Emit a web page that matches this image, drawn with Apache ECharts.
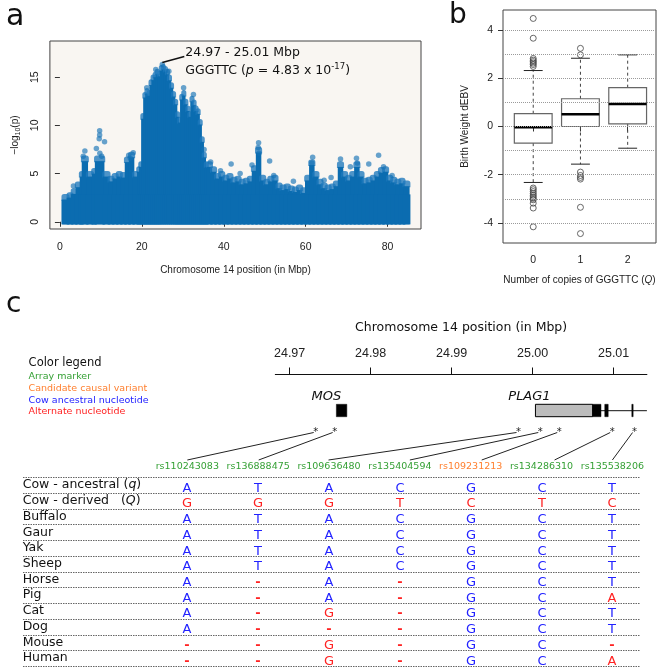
<!DOCTYPE html>
<html><head><meta charset="utf-8">
<script src="https://cdn.jsdelivr.net/npm/echarts@6/dist/echarts.min.js"></script>
<style>html,body{margin:0;padding:0;background:#fff}#c{width:660px;height:669px}</style>
</head><body><div id="c"></div>
<script>
// ================= DATA =================
// Panel a: Manhattan plot, chromosome 14 (Mbp, -log10 p)
// dense band of markers: [startMbp, endMbp, top -log10(p)]
const denseBins = [
 [0.75,2,2.6],[2,3,2.8],[3,4,3.2],[4,5,3.9],[5,5.5,5.0],[5.5,6.7,6.6],[6.7,8,5.0],[8,8.7,5.3],
 [8.7,10.7,6.6],[10.7,12,5.0],[12,13,4.5],[13,14,4.8],[14,15,5.0],[15,16,4.9],[16,17,6.5],
 [17,18,7.0],[18,19,5.0],
 [19,19.5,5.5],[19.5,20,6.0],[20,20.5,11.0],[20.5,21,13.2],[21,21.5,13.6],[21.5,22,13.4],
 [22,22.5,14.5],[22.5,23,15.0],[23,23.5,15.3],[23.5,24,15.6],[24,24.5,15.4],[24.5,25,16.0],
 [25,25.5,16.1],[25.5,26,15.9],[26,26.5,15.6],[26.5,27,15.0],[27,27.5,14.2],[27.5,28,13.3],
 [28,28.5,12.5],[28.5,29,11.2],[29,29.5,10.6],[29.5,30,13.0],[30,30.5,13.4],[30.5,31,12.5],
 [31,31.5,11.8],[31.5,32,11.2],[32,32.5,12.8],[32.5,33,12.4],[33,33.5,11.8],[33.5,34,11.5],
 [34,34.5,10.4],[34.5,35,8.6],[35,35.5,7.0],[35.5,36,6.0],
 [36,37,6.0],[37,38,5.5],[38,39,4.8],[39,40,5.0],[40,41,4.6],[41,42,4.8],[42,43,4.4],
 [43,44,4.5],[44,45,4.2],[45,46,4.3],[46,47,4.5],[47,48,5.6],[48,49,7.5],[49,50,4.6],
 [50,51,4.2],[51,52,4.5],[52,53,4.6],[53,54,3.8],[54,55,3.6],[55,56,3.7],[56,57,3.5],
 [57,58,3.4],[58,59,3.6],[59,60,3.3],[60,61,4.6],[61,62,6.2],[62,63,5.0],[63,64,4.2],
 [64,65,3.8],[65,66,3.6],[66,67,3.7],[67,68,4.0],[68,69,6.0],[69,70,5.0],[70,71,4.6],
 [71,72,5.0],[72,73,6.0],[73,74,5.0],[74,75,4.3],[75,76,4.4],[76,77,4.6],[77,78,5.0],
 [78,79,5.4],[79,80,5.5],[80,81,4.6],[81,82,4.4],[82,83,4.2],[83,84,4.3],[84,85.2,4.0]
];
// isolated markers above the dense band: [Mbp, -log10(p)]
const sparsePoints = [
 [6.1,7.35],[5.7,6.8],[9.7,9.45],[9.7,9.0],[9.6,8.6],[10.9,8.3],[8.9,7.6],[9.75,7.1],[10.2,6.8],
 [16.8,6.9],[17.9,7.15],[17.2,6.6],[3.3,3.7],[21.2,13.9],[23.4,15.8],[25.0,16.32],[26.6,15.6],
 [30.2,13.9],[32.6,13.2],[35.2,7.5],[36.8,6.2],[39.2,5.3],[41.8,6.0],[44.0,5.0],[46.9,5.9],
 [48.5,8.2],[48.4,7.7],[48.6,7.1],[51.2,6.3],[52.2,4.8],[57.0,4.2],[61.7,6.7],[61.5,6.1],
 [64.5,4.3],[66.2,4.6],[68.5,6.5],[70.9,5.7],[72.4,6.6],[72.6,6.1],[75.4,6.0],[77.8,6.9],
 [79.0,5.7],[81.1,4.8]
];
const peakPoint = [25.0, 16.32];
const peakRegion = '24.97 - 25.01 Mbp';
const peakHaplotype = 'GGGTTC';
const peakP = '4.83';
const peakExp = '-17';
const aXTicks = [0,20,40,60,80];
const aYTicks = [0,5,10,15];

// Panel b: boxplots of Birth Weight dEBV by number of GGGTTC copies
const copyLabels = ['0','1','2'];
// [lower whisker, Q1, median, Q3, upper whisker]
const boxStats = [
 [-2.32,-0.69,-0.03,0.53,2.32],
 [-1.56,0.00,0.51,1.15,2.83],
 [-0.90,0.11,0.93,1.61,2.97]
];
// [group index, value]
const outliers = [
 [0,4.48],[0,3.66],[0,2.82],[0,2.75],[0,2.69],[0,2.63],[0,2.57],[0,2.49],
 [0,-2.55],[0,-2.62],[0,-2.70],[0,-2.78],[0,-2.85],[0,-2.92],[0,-2.98],[0,-3.04],[0,-3.18],[0,-3.38],[0,-4.16],
 [1,3.24],[1,2.97],[1,-1.89],[1,-2.03],[1,-2.11],[1,-2.18],[1,-3.35],[1,-4.44]
];
const bYTicks = [-4,-2,0,2,4];
const bGridValues = [-4,-3,-2,-1,0,1,2,3,4];

// Panel c: region map and alignment
const cTicks = [24.97,24.98,24.99,25.00,25.01];
const geneParts = [
 {gene:'MOS',   kind:'exon',   start:24.97577, end:24.97706},
 {gene:'PLAG1', kind:'intron', start:25.00035, end:25.01411},
 {gene:'PLAG1', kind:'utr',    start:25.00035, end:25.00741},
 {gene:'PLAG1', kind:'exon',   start:25.00741, end:25.00844},
 {gene:'PLAG1', kind:'exon',   start:25.00891, end:25.00933},
 {gene:'PLAG1', kind:'exon',   start:25.01225, end:25.01237}
];
const geneNames = [{name:'MOS', start:24.97577},{name:'PLAG1', start:25.00035}];
const snpIds  = ['rs110243083','rs136888475','rs109636480','rs135404594','rs109231213','rs134286310','rs135538206'];
const snpPos  = [24.97322,24.97556,24.99826,25.00095,25.00329,25.00983,25.01259];
const snpType = ['array','array','array','array','candidate','array','array'];
const species = ['Cow - ancestral (q)','Cow - derived   (Q)','Buffalo','Gaur','Yak','Sheep','Horse','Pig','Cat','Dog','Mouse','Human'];
const alleles = [
 ['A','T','A','C','G','C','T'],
 ['G','G','G','T','C','T','C'],
 ['A','T','A','C','G','C','T'],
 ['A','T','A','C','G','C','T'],
 ['A','T','A','C','G','C','T'],
 ['A','T','A','C','G','C','T'],
 ['A','-','A','-','G','C','T'],
 ['A','-','A','-','G','C','A'],
 ['A','-','G','-','G','C','T'],
 ['A','-','-','-','G','C','T'],
 ['-','-','G','-','G','C','-'],
 ['-','-','G','-','G','C','A']
];
const legendItems = [
 {text:'Array marker', key:'array'},
 {text:'Candidate causal variant', key:'candidate'},
 {text:'Cow ancestral nucleotide', key:'ancestral'},
 {text:'Alternate nucleotide', key:'alternate'}
];

// ================= STYLE / LAYOUT =================
const FR = "'Liberation Sans', Arial, sans-serif";
const FD = "'DejaVu Sans', sans-serif";
const COL = {array:'#35a035', candidate:'#ff8030', ancestral:'#2222ff', alternate:'#ff2222'};
const MAN_BLUE = '#0b6cb0';
const MAN_FRINGE = 'rgba(30,120,188,0.78)';
const T = {left:151.9, top:477.3, width:495.9, height:188.7};
const geneLabelDx = {MOS:-10, PLAG1:-6};
const connectorDx = [0, 0.5, -0.5, 10, 11, 13, 0];

const cells = [];
alleles.forEach((row, r) => row.forEach((ch, c) => {
  const anc = alleles[0][c];
  cells.push({col:c, row:r, ch, color:(ch !== '-' && ch === anc) ? COL.ancestral : COL.alternate});
}));

const chart = echarts.init(document.getElementById('c'));
const axisTxt = {fontSize:10.5, fontFamily:FR, color:'#222'};
const nameTxt = {fontSize:10, fontFamily:FR, color:'#222'};

const option = {
  animation:false,
  grid:[
    {left:49, top:41, width:372, height:188, show:true, backgroundColor:'#f9f6f2', borderColor:'#444', borderWidth:1},
    {left:503, top:10, width:153, height:233, show:true, backgroundColor:'rgba(0,0,0,0)', borderColor:'#444', borderWidth:1},
    {left:275.3, top:374.5, width:371.6, height:60, show:false},
    {left:T.left, top:T.top, width:T.width, height:T.height, show:false}
  ],
  xAxis:[
    {gridIndex:0, type:'value', min:-2.44, max:88.15, axisLine:{show:false},
     axisTick:{show:true, length:5, customValues:aXTicks, lineStyle:{color:'#333'}},
     axisLabel:Object.assign({customValues:aXTicks, margin:13}, axisTxt), splitLine:{show:false},
     name:'Chromosome 14 position (in Mbp)', nameLocation:'middle', nameGap:36, nameTextStyle:nameTxt},
    {gridIndex:1, type:'value', min:0.36, max:3.6, axisLine:{show:false},
     axisTick:{show:true, length:5, customValues:[1,2,3], lineStyle:{color:'#333'}},
     axisLabel:Object.assign({customValues:[1,2,3], margin:12, formatter:v=>copyLabels[Math.round(v)-1]}, axisTxt),
     splitLine:{show:false},
     name:'Number of copies of GGGTTC ({i|Q})', nameLocation:'middle', nameGap:32,
     nameTextStyle:Object.assign({rich:{i:{fontStyle:'italic', fontSize:10, fontFamily:FR, color:'#222'}}}, nameTxt)},
    {gridIndex:2, type:'value', position:'top', min:24.96823, max:25.01411,
     axisLine:{show:true, lineStyle:{color:'#111', width:1}},
     axisTick:{show:true, length:7, customValues:cTicks, lineStyle:{color:'#111'}},
     axisLabel:{customValues:cTicks, formatter:v=>v.toFixed(2), fontSize:12.5, fontFamily:FR, color:'#222', margin:14},
     splitLine:{show:false},
     name:'Chromosome 14 position (in Mbp)', nameLocation:'middle', nameGap:40,
     nameTextStyle:{fontSize:12.5, fontFamily:FD, color:'#111'}},
    {gridIndex:3, type:'category', position:'top', data:snpIds, axisLine:{show:false}, axisTick:{show:false},
     axisLabel:{interval:0, fontSize:9.5, fontFamily:FD, margin:6, color:(v,i)=>COL[snpType[snpIds.indexOf(v)]]},
     splitLine:{show:false}}
  ],
  yAxis:[
    {gridIndex:0, type:'value', min:-0.75, max:18.75, axisLine:{show:false},
     axisTick:{show:true, length:5, customValues:aYTicks, lineStyle:{color:'#333'}},
     axisLabel:Object.assign({customValues:aYTicks, rotate:90, margin:9}, axisTxt), splitLine:{show:false},
     name:'\u2212log{s|10}(p)', nameLocation:'middle', nameGap:24,
     nameTextStyle:Object.assign({lineHeight:14, rich:{s:{fontSize:7, fontFamily:FR, color:'#222', verticalAlign:'bottom', lineHeight:14}}}, nameTxt)},
    {gridIndex:1, type:'value', min:-4.83, max:4.83, axisLine:{show:false},
     axisTick:{show:true, length:5, customValues:bYTicks, lineStyle:{color:'#333'}},
     axisLabel:Object.assign({customValues:bYTicks, margin:10}, axisTxt), splitLine:{show:false},
     name:'Birth Weight dEBV', nameLocation:'middle', nameGap:33, nameTextStyle:nameTxt},
    {gridIndex:2, type:'value', min:0, max:1, inverse:true, show:false},
    {gridIndex:3, type:'category', data:species, inverse:true, axisLine:{show:false}, axisTick:{show:false},
     axisLabel:{interval:0, align:'left', margin:T.left-22.7, fontSize:12.5, fontFamily:FD, color:'#111',
       formatter:v=>v.replace('(q)','({i|q})').replace('(Q)','({i|Q})'),
       rich:{i:{fontStyle:'italic', fontSize:12.5, fontFamily:FD, color:'#111'}}},
     splitLine:{show:false}}
  ],
  graphic:[
    {type:'text', x:6, y:17, style:{text:'a', fontSize:30, fontFamily:FD, fill:'#111', verticalAlign:'middle', textVerticalAlign:'middle'}},
    {type:'text', x:449, y:16, style:{text:'b', fontSize:28, fontFamily:FD, fill:'#111', verticalAlign:'middle', textVerticalAlign:'middle'}},
    {type:'text', x:6, y:305, style:{text:'c', fontSize:28, fontFamily:FD, fill:'#111', verticalAlign:'middle', textVerticalAlign:'middle'}},
    {type:'text', x:28.6, y:362.7, style:{text:'Color legend', fontSize:11.5, fontFamily:FD, fill:'#111', verticalAlign:'middle', textVerticalAlign:'middle'}}
  ].concat(legendItems.map((it,k)=>({type:'text', x:28.6, y:376.7+k*11.7,
      style:{text:it.text, fontSize:9.5, fontFamily:FD, fill:COL[it.key], verticalAlign:'middle', textVerticalAlign:'middle'}}))),
  series:[
    // --- panel a dense band
    {type:'custom', xAxisIndex:0, yAxisIndex:0, silent:true, z:2, data:denseBins,
     renderItem(params, api){
       const s=api.value(0), e=api.value(1), t=api.value(2);
       const p0=api.coord([s,t]), p1=api.coord([e,-0.27]);
       const x=p0[0]-1.5, w=p1[0]-p0[0]+3;
       const yTop=p0[1]-2.6, ySolid=p0[1]+3;
       return {type:'group', children:[
         {type:'rect', shape:{x, y:yTop, width:w, height:ySolid-yTop+1, r:[2.6,2.6,0,0]}, style:{fill:MAN_FRINGE}},
         {type:'rect', shape:{x:x+0.8, y:ySolid, width:w-1.6, height:p1[1]-ySolid}, style:{fill:MAN_BLUE}},
         {type:'rect', shape:{x, y:Math.max(ySolid, p1[1]-30), width:w, height:p1[1]-Math.max(ySolid, p1[1]-30)}, style:{fill:MAN_BLUE}}
       ]};
     }},
    {type:'scatter', xAxisIndex:0, yAxisIndex:0, silent:true, z:3, data:sparsePoints, symbolSize:5.5,
     itemStyle:{color:'rgba(18,112,182,0.8)'}},
    // --- panel a annotation
    {type:'custom', xAxisIndex:0, yAxisIndex:0, silent:true, z:4, data:[peakPoint],
     renderItem(params, api){
       const p = api.coord([api.value(0), api.value(1)]);
       return {type:'group', children:[
         {type:'line', shape:{x1:p[0], y1:p[1]-2, x2:p[0]+22, y2:p[1]-8}, style:{stroke:'#111', lineWidth:1.5}},
         {type:'text', x:p[0]+23, y:p[1]-12, style:{text:peakRegion, fontSize:12.5, fontFamily:FD, fill:'#111', verticalAlign:'middle'}},
         {type:'text', x:p[0]+23, y:p[1]+6, style:{text:peakHaplotype+' ({i|p} = '+peakP+' x 10{sup|'+peakExp+'})',
            fontSize:12.5, fontFamily:FD, fill:'#111', verticalAlign:'middle', lineHeight:16,
            rich:{i:{fontStyle:'italic', fontSize:12.5, fontFamily:FD, fill:'#111', lineHeight:16},
                  sup:{fontSize:8.5, fontFamily:FD, fill:'#111', verticalAlign:'top', lineHeight:16}}}}
       ]};
     }},
    // --- panel b boxplots
    {type:'custom', xAxisIndex:1, yAxisIndex:1, silent:true, z:3, data:boxStats.map((s,i)=>[i+1].concat(s)),
     renderItem(params, api){
       const x=api.value(0), lo=api.value(1), q1=api.value(2), md=api.value(3), q3=api.value(4), hi=api.value(5);
       const hw=0.4, cw=0.2;
       const a=api.coord([x-hw,q3]), b=api.coord([x+hw,q1]);
       const m0=api.coord([x-hw,md]), m1=api.coord([x+hw,md]);
       const t0=api.coord([x,q3]), t1=api.coord([x,hi]), u0=api.coord([x,q1]), u1=api.coord([x,lo]);
       const c0=api.coord([x-cw,hi]), c1=api.coord([x+cw,hi]), d0=api.coord([x-cw,lo]), d1=api.coord([x+cw,lo]);
       const dash={stroke:'#444', lineWidth:1, lineDash:[3,3]};
       const solid={stroke:'#222', lineWidth:1};
       return {type:'group', children:[
         {type:'line', shape:{x1:t0[0],y1:t0[1],x2:t1[0],y2:t1[1]}, style:dash},
         {type:'line', shape:{x1:u0[0],y1:u0[1],x2:u1[0],y2:u1[1]}, style:dash},
         {type:'line', shape:{x1:c0[0],y1:c0[1],x2:c1[0],y2:c1[1]}, style:solid},
         {type:'line', shape:{x1:d0[0],y1:d0[1],x2:d1[0],y2:d1[1]}, style:solid},
         {type:'rect', shape:{x:a[0], y:a[1], width:b[0]-a[0], height:b[1]-a[1]}, style:{fill:null, stroke:'#666', lineWidth:1.2}},
         {type:'line', shape:{x1:m0[0],y1:m0[1],x2:m1[0],y2:m1[1]}, style:{stroke:'#000', lineWidth:2.5}}
       ]};
     }},
    {type:'scatter', xAxisIndex:1, yAxisIndex:1, silent:true, z:4, data:outliers.map(o=>[o[0]+1,o[1]]),
     symbol:'circle', symbolSize:6, itemStyle:{color:'rgba(0,0,0,0)', borderColor:'#444', borderWidth:1},
     markLine:{silent:true, symbol:['none','none'], label:{show:false}, animation:false,
       lineStyle:{type:'dotted', color:'#9a9a9a', width:1}, emphasis:{disabled:true},
       data:bGridValues.map(v=>({yAxis:v}))}},
    // --- panel c gene structures
    {type:'custom', xAxisIndex:2, yAxisIndex:2, silent:true, data:geneParts.map(g=>[g.start,g.end]),
     renderItem(params, api){
       const g=geneParts[params.dataIndex];
       const p0=api.coord([api.value(0),0]), p1=api.coord([api.value(1),0]);
       const top=p0[1];
       if (g.kind==='intron') return {type:'line', shape:{x1:p0[0], y1:top+36.2, x2:p1[0], y2:top+36.2}, style:{stroke:'#111', lineWidth:1}};
       const w=Math.max(1.3, p1[0]-p0[0]);
       return {type:'rect', shape:{x:p0[0], y:top+29.8, width:w, height:12.4},
               style:{fill:g.kind==='utr'?'#bcbcbc':'#000', stroke:'#000', lineWidth:g.kind==='utr'?1:0.5}};
     }},
    {type:'custom', xAxisIndex:2, yAxisIndex:2, silent:true, data:geneNames.map(g=>[g.start,0]),
     renderItem(params, api){
       const g=geneNames[params.dataIndex];
       const p=api.coord([api.value(0),0]);
       return {type:'text', x:p[0]+geneLabelDx[g.name], y:p[1]+22.5,
               style:{text:g.name, fontSize:13, fontStyle:'italic', fontFamily:FD, fill:'#111', align:'center', verticalAlign:'middle'}};
     }},
    // --- panel c SNP markers and connectors
    {type:'custom', xAxisIndex:2, yAxisIndex:2, silent:true, data:snpPos.map(x=>[x,0]),
     renderItem(params, api){
       const i=params.dataIndex;
       const p=api.coord([api.value(0),0]);
       const cx=T.left + T.width*(i+0.5)/snpIds.length + connectorDx[i];
       return {type:'group', children:[
         {type:'text', x:p[0], y:p[1]+58, style:{text:'*', fontSize:10, fontFamily:FD, fill:'#222', align:'center', verticalAlign:'middle'}},
         {type:'line', shape:{x1:p[0]-2, y1:p[1]+58, x2:cx, y2:p[1]+85.5}, style:{stroke:'#222', lineWidth:1}}
       ]};
     }},
    // --- table row rules
    {type:'custom', xAxisIndex:3, yAxisIndex:3, silent:true, data:species.map((s,i)=>[0,i]),
     renderItem(params, api){
       const p=api.coord([0,params.dataIndex]);
       const h=api.size([0,1])[1];
       const st={stroke:'#666', lineWidth:1, lineDash:[1.5,1]};
       const yb=Math.round(p[1]+h/2)+0.5;
       const ch=[{type:'line', shape:{x1:23, y1:yb, x2:640, y2:yb}, style:st}];
       if (params.dataIndex===0){ const yt=Math.round(p[1]-h/2)+0.5; ch.push({type:'line', shape:{x1:23, y1:yt, x2:640, y2:yt}, style:st}); }
       return {type:'group', children:ch};
     }},
    // --- table nucleotides
    {type:'custom', xAxisIndex:3, yAxisIndex:3, silent:true, z:3, data:cells.map(c=>[c.col,c.row]),
     renderItem(params, api){
       const c=cells[params.dataIndex];
       const p=api.coord([api.value(0),api.value(1)]);
       return {type:'text', x:Math.round(p[0]), y:Math.round(p[1]+3.5),
               style:{text:c.ch, fill:c.color, fontSize:13, fontFamily:FD, align:'center', verticalAlign:'middle',
                      fontWeight:c.ch==='-'?'bold':'normal'}};
     }}
  ]
};
chart.setOption(option);
</script>
</body></html>
